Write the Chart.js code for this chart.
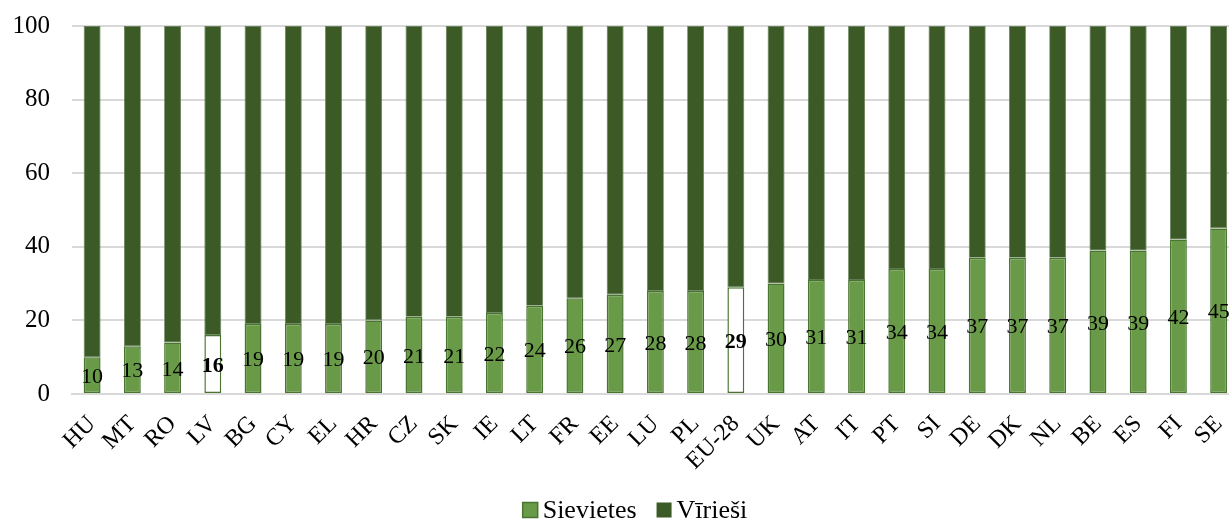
<!DOCTYPE html>
<html>
<head>
<meta charset="utf-8">
<script src="https://cdn.jsdelivr.net/npm/chart.js@4.4.1/dist/chart.umd.min.js"></script>
<style>
    html, body { margin: 0; padding: 0; background: #fff; overflow: hidden; }
    #wrap { width: 1255px; height: 520px; }
</style>
</head>
<body>
<div id="wrap"><canvas id="chart"></canvas></div>
<script>
// Valstis (kategorijas)
const valstis = ['HU', 'MT', 'RO', 'LV', 'BG', 'CY', 'EL', 'HR', 'CZ', 'SK', 'IE', 'LT', 'FR', 'EE', 'LU',
    'PL', 'EU-28', 'UK', 'AT', 'IT', 'PT', 'SI', 'DE', 'DK', 'NL', 'BE', 'ES', 'FI', 'SE'];

// Sieviešu īpatsvars (%)
const sievietes = [10, 13, 14, 16, 19, 19, 19, 20, 21, 21, 22, 24, 26, 27, 28,
    28, 29, 30, 31, 31, 34, 34, 37, 37, 37, 39, 39, 42, 45];

// Vīriešu īpatsvars (%)
const virieši = [90, 87, 86, 84, 81, 81, 81, 80, 79, 79, 78, 76, 74, 73, 72,
    72, 71, 70, 69, 69, 66, 66, 63, 63, 63, 61, 61, 58, 55];

// Izceltās kategorijas
const izceltas = ['LV', 'EU-28'];

const yTicks = [0, 20, 40, 60, 80, 100];

const gaisZala = '#699a47';
const tumsZala = '#3b5a25';
const maluZala = '#4a7531';
const fontFamily = "'Liberation Serif', 'Times New Roman', serif";

const sievFill = valstis.map(v => izceltas.includes(v) ? '#ffffff' : gaisZala);

// Vērtību etiķetes sieviešu stabiņu vidū
const vertibuPlugin = {
    id: 'vertibas',
    afterDatasetsDraw(chart) {
        const ctx = chart.ctx;
        const meta = chart.getDatasetMeta(0);
        ctx.save();
        ctx.fillStyle = '#000';
        ctx.textAlign = 'center';
        ctx.textBaseline = 'middle';
        meta.data.forEach((bar, i) => {
            const bold = izceltas.includes(valstis[i]);
            ctx.font = (bold ? 'bold ' : '') + '22px ' + fontFamily;
            ctx.fillText(String(sievietes[i]), bar.x, (bar.y + bar.base) / 2 + 2);
        });
        ctx.restore();
    }
};

// Leģenda apakšā (kā Excel: kvadrāts + teksts)
const legendaPlugin = {
    id: 'legenda',
    afterDraw(chart) {
        const ctx = chart.ctx;
        const box = 15, gapBox = 5, gapItem = 20;
        const centerX = 635, midY = 510;
        ctx.save();
        ctx.font = '26px ' + fontFamily;
        ctx.textBaseline = 'middle';
        const items = chart.data.datasets.map(ds => ({
            text: ds.label,
            fill: ds.legendFill,
            stroke: ds.legendStroke,
            w: ctx.measureText(ds.label).width
        }));
        const total = items.reduce((s, it) => s + box + gapBox + it.w, 0) + gapItem * (items.length - 1);
        let x = centerX - total / 2;
        items.forEach(it => {
            ctx.fillStyle = it.fill;
            ctx.fillRect(x, midY - box / 2, box, box);
            if (it.stroke) {
                ctx.strokeStyle = it.stroke;
                ctx.lineWidth = 1.5;
                ctx.strokeRect(x, midY - box / 2, box, box);
            }
            ctx.fillStyle = '#000';
            ctx.fillText(it.text, x + box + gapBox, midY + 1);
            x += box + gapBox + it.w + gapItem;
        });
        ctx.restore();
    }
};

new Chart(document.getElementById('chart'), {
    type: 'bar',
    data: {
        labels: valstis,
        datasets: [
            {
                label: 'Sievietes',
                data: sievietes,
                backgroundColor: sievFill,
                borderColor: maluZala,
                borderWidth: 1.5,
                borderSkipped: false,
                barPercentage: 0.42,
                categoryPercentage: 1.0,
                legendFill: gaisZala,
                legendStroke: maluZala
            },
            {
                label: 'Vīrieši',
                data: virieši,
                backgroundColor: tumsZala,
                borderColor: '#5f7a50',
                borderWidth: 0.8,
                borderSkipped: false,
                barPercentage: 0.42,
                categoryPercentage: 1.0,
                legendFill: tumsZala,
                legendStroke: null
            }
        ]
    },
    options: {
        responsive: true,
        maintainAspectRatio: false,
        animation: false,
        layout: { autoPadding: false, padding: { top: 26, left: 0, right: 0, bottom: 0 } },
        plugins: {
            tooltip: { enabled: false },
            legend: { display: false }
        },
        scales: {
            x: {
                stacked: true,
                grid: { display: false, drawTicks: false },
                border: { display: true, color: '#d9d9d9', width: 2 },
                ticks: {
                    color: '#000',
                    font: { family: fontFamily, size: 24 },
                    minRotation: 45,
                    maxRotation: 45,
                    autoSkip: false,
                    padding: 16
                },
                afterFit(scale) { scale.height = 126; }
            },
            y: {
                stacked: true,
                min: 0,
                max: 100,
                afterBuildTicks(scale) { scale.ticks = yTicks.map(v => ({ value: v })); },
                grid: { color: '#d9d9d9', lineWidth: 2, drawTicks: false },
                border: { display: false },
                ticks: {
                    color: '#000',
                    font: { family: fontFamily, size: 25 },
                    padding: 22
                },
                afterFit(scale) {
                    scale.width = 72;
                    scale.paddingTop = 0;
                    scale.paddingBottom = 0;
                }
            }
        }
    },
    plugins: [vertibuPlugin, legendaPlugin]
});
</script>
</body>
</html>
